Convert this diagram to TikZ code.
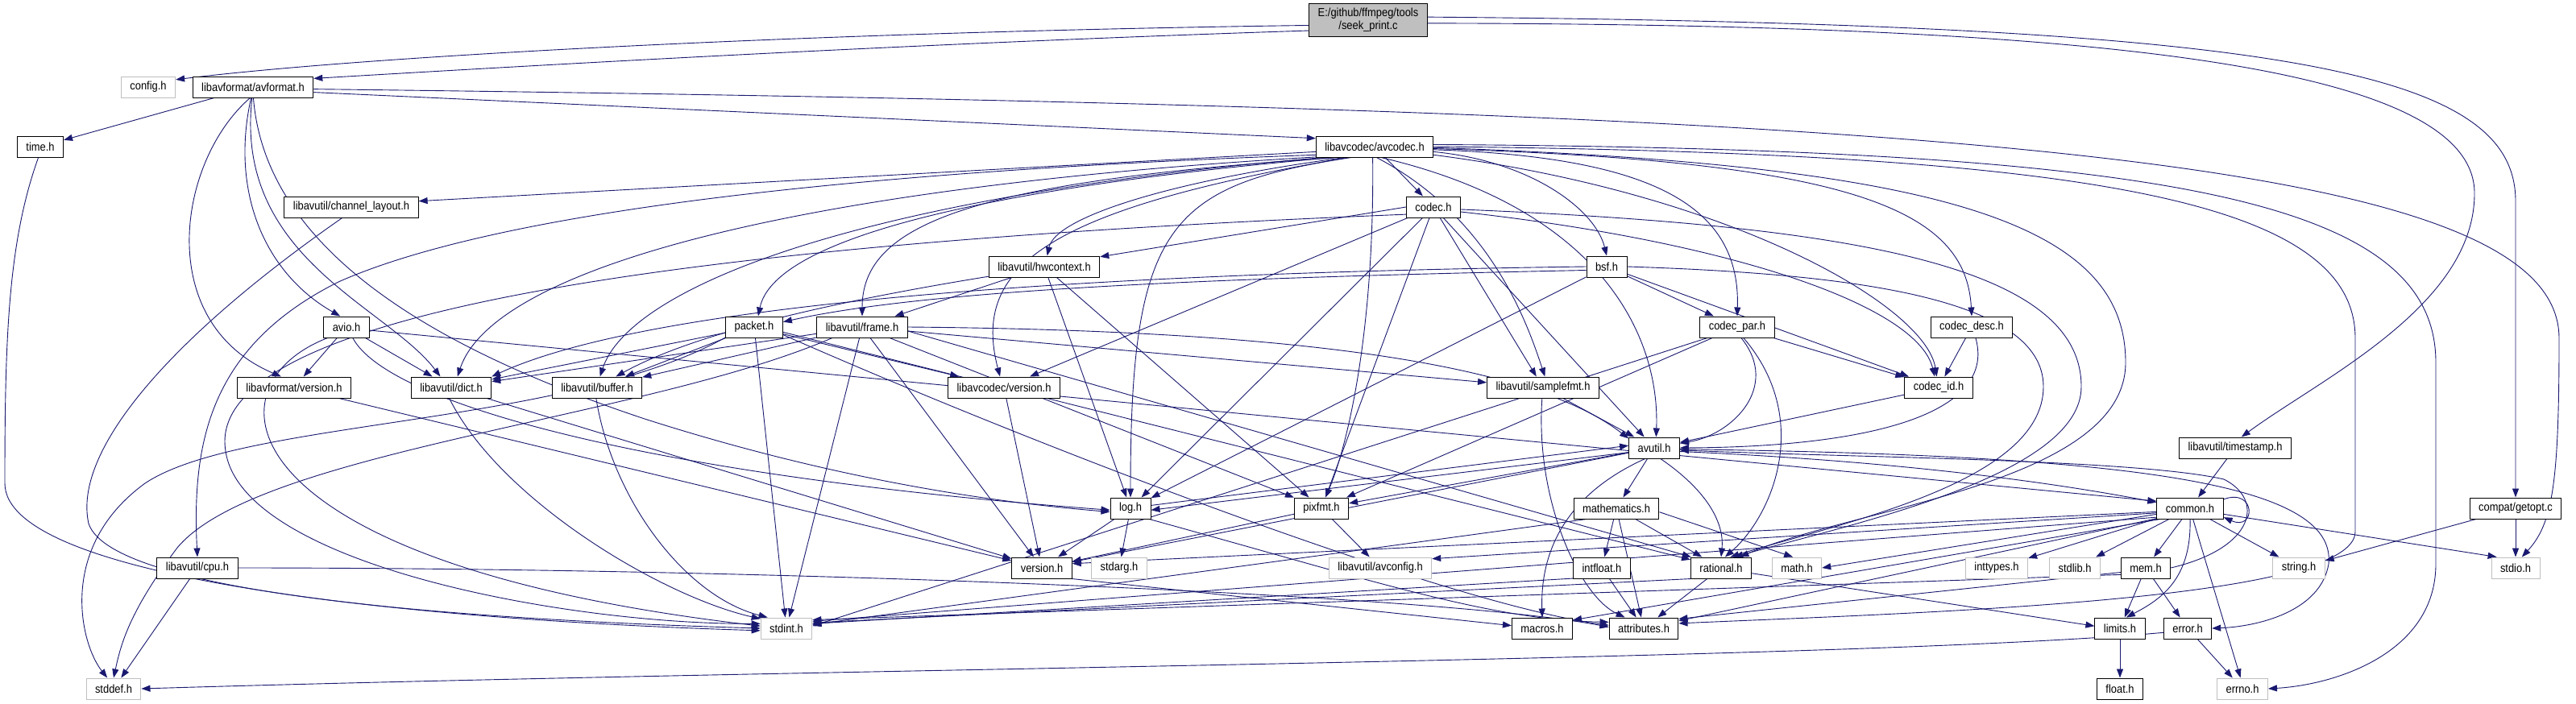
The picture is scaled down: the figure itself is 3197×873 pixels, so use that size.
\documentclass[tikz,border=0pt]{standalone}
\usepackage{fontspec}
\newfontfamily\dxfont{Liberation Sans}[FakeStretch=0.89]
\usepackage{tikz}
\usetikzlibrary{arrows.meta,backgrounds}
\definecolor{edgeblue}{RGB}{25,25,112}
\definecolor{boxgray}{RGB}{191,191,191}

\begin{document}
\begin{tikzpicture}[x=1pt, y=-1pt,
  hd/.style={draw=black, line width=1pt, fill=white, font=\dxfont\fontsize{14.5}{16}\selectfont,
             inner xsep=11pt, inner ysep=0pt, minimum height=26pt},
  sy/.style={hd, draw=boxgray},
  rt/.style={hd, fill=boxgray, align=center, minimum height=41pt},
  ar/.style={-{Triangle[length=11pt,width=8pt]}, draw=edgeblue, line width=0.9pt}]
\useasboundingbox (0,0) rectangle (3197,873);
\node[rt] (seek) at (1698,25) {E:/github/ffmpeg/tools\\/seek\_print.c};
\node[sy] (config) at (184,108) {config.h};
\node[hd] (avformat) at (314,108) {libavformat/avformat.h};
\node[hd] (time) at (50,182) {time.h};
\node[hd] (avcodec) at (1706,182) {libavcodec/avcodec.h};
\node[hd] (chlayout) at (436,257) {libavutil/channel\_layout.h};
\node[hd] (codec) at (1779,257) {codec.h};
\node[hd] (hwctx) at (1296,331) {libavutil/hwcontext.h};
\node[hd] (bsf) at (1994,331) {bsf.h};
\node[hd] (avio) at (430,406) {avio.h};
\node[hd] (packet) at (936,406) {packet.h};
\node[hd] (frame) at (1070,406) {libavutil/frame.h};
\node[hd] (codecpar) at (2156,406) {codec\_par.h};
\node[hd] (codecdesc) at (2447,406) {codec\_desc.h};
\node[hd] (lavfver) at (365,481) {libavformat/version.h};
\node[hd] (dict) at (560,481) {libavutil/dict.h};
\node[hd] (buffer) at (741,481) {libavutil/buffer.h};
\node[hd] (lavcver) at (1246,481) {libavcodec/version.h};
\node[hd] (samplefmt) at (1915,481) {libavutil/samplefmt.h};
\node[hd] (codecid) at (2406,481) {codec\_id.h};
\node[hd] (avutil) at (2053,556) {avutil.h};
\node[hd] (timestamp) at (2774,556) {libavutil/timestamp.h};
\node[hd] (log) at (1403,631) {log.h};
\node[hd] (pixfmt) at (1640,631) {pixfmt.h};
\node[hd] (mathematics) at (2006,631) {mathematics.h};
\node[hd] (common) at (2718,631) {common.h};
\node[hd] (getopt) at (3122,631) {compat/getopt.c};
\node[hd] (cpu) at (245,705) {libavutil/cpu.h};
\node[hd] (version) at (1293,705) {version.h};
\node[sy] (stdarg) at (1389,705) {stdarg.h};
\node[sy] (avconfig) at (1713,705) {libavutil/avconfig.h};
\node[hd] (intfloat) at (1988,705) {intfloat.h};
\node[hd] (rational) at (2136,705) {rational.h};
\node[sy] (math) at (2230,705) {math.h};
\node[sy] (inttypes) at (2478,705) {inttypes.h};
\node[sy] (stdlib) at (2575,705) {stdlib.h};
\node[hd] (mem) at (2663,705) {mem.h};
\node[sy] (string) at (2853,705) {string.h};
\node[sy] (stdio) at (3122,705) {stdio.h};
\node[sy] (stdint) at (976,780) {stdint.h};
\node[hd] (macros) at (1914,780) {macros.h};
\node[hd] (attributes) at (2040,780) {attributes.h};
\node[hd] (limits) at (2631,780) {limits.h};
\node[hd] (error) at (2715,780) {error.h};
\node[sy] (stddef) at (141,855) {stddef.h};
\node[hd] (float) at (2631,855) {float.h};
\node[sy] (errno) at (2783,855) {errno.h};
\begin{scope}[on background layer]
\fill[white] (0,0) rectangle (3197,873);
\draw[ar] (seek.185) .. controls (1000,40) and (450,70) .. (config.15);
\draw[ar] (seek.190) .. controls (1100,55) and (600,85) .. (avformat.8);
\draw[ar] (seek.-3) .. controls (2600,30) and (3071,80) .. (3071,240) .. controls (3071,380) and (2880,470) .. (timestamp.60);
\draw[ar] (seek.3) .. controls (2850,30) and (3122,90) .. (3122,250) -- (getopt.north);
\draw[ar] (avformat) -- (time);
\draw[ar] (avformat.-5) -- (avcodec.172);
\draw[ar] (avformat.-2) .. controls (2400,135) and (3176,190) .. (3176,420) .. controls (3176,600) and (3168,650) .. (stdio.60);
\draw[ar] (avformat.-100) .. controls (285,240) and (330,340) .. (avio.120);
\draw[ar] (avformat.-105) .. controls (220,200) and (190,400) .. (lavfver.140);
\draw[ar] (avformat.-95) .. controls (290,320) and (480,380) .. (dict.135);
\draw[ar] (avformat.-88) .. controls (330,320) and (560,440) .. (800,520) .. controls (1050,600) and (1250,625) .. (log.190);
\draw[ar] (time.-100) .. controls (10,300) and (6,420) .. (6,600) .. controls (6,720) and (520,770) .. (stdint.185);
\draw[ar] (chlayout.-130) .. controls (210,420) and (90,560) .. (110,650) .. controls (140,740) and (600,770) .. (stdint.180);
\draw[ar] (avio.-150) .. controls (250,480) and (280,700) .. (stdint.175);
\draw[ar] (avio) -- (lavfver);
\draw[ar] (avio) -- (dict);
\draw[ar] (avio.-60) .. controls (480,500) and (800,590) .. (log.185);
\draw[ar] (avio.-8) -- (common.168);
\draw[ar] (avcodec.185) -- (chlayout.5);
\draw[ar] (avcodec.188) .. controls (1000,215) and (600,270) .. (420,350) .. controls (260,430) and (238,550) .. (cpu.north);
\draw[ar] (avcodec.190) .. controls (950,235) and (610,340) .. (dict.60);
\draw[ar] (avcodec.192) .. controls (1050,245) and (780,360) .. (buffer.75);
\draw[ar] (avcodec.195) .. controls (1200,235) and (960,300) .. (packet.70);
\draw[ar] (avcodec.197) .. controls (1200,225) and (1070,280) .. (frame.north);
\draw[ar] (avcodec.200) .. controls (1450,225) and (1310,270) .. (hwctx.75);
\draw[ar] (avcodec.202) .. controls (1300,260) and (1205,330) .. (lavcver.110);
\draw[ar] (avcodec.205) .. controls (1450,230) and (1403,280) .. (log.north);
\draw[ar] (avcodec.-100) .. controls (1706,420) and (1670,560) .. (pixfmt.70);
\draw[ar] (avcodec) -- (codec);
\draw[ar] (avcodec.-80) .. controls (1850,270) and (1895,400) .. (samplefmt.80);
\draw[ar] (avcodec.-60) .. controls (1990,260) and (2060,420) .. (avutil.80);
\draw[ar] (avcodec.-5) .. controls (1900,200) and (1980,260) .. (bsf.north);
\draw[ar] (avcodec.-3) .. controls (2060,195) and (2160,260) .. (codecpar.north);
\draw[ar] (avcodec.-2) .. controls (2300,200) and (2440,260) .. (codecdesc.north);
\draw[ar] (avcodec.-8) .. controls (2150,240) and (2390,380) .. (codecid.100);
\draw[ar] (avcodec.-1) .. controls (2420,205) and (2638,280) .. (2638,450) .. controls (2638,600) and (2300,630) .. (rational.30);
\draw[ar] (avcodec.0) .. controls (2600,190) and (2923,250) .. (2923,420) -- (2923,660) .. controls (2923,745) and (2400,760) .. (attributes.8);
\draw[ar] (avcodec.2) .. controls (2700,185) and (3023,250) .. (3023,450) -- (3023,700) .. controls (3023,810) and (2900,850) .. (errno.east);
\draw[ar] (codec.west) -- (hwctx.10);
\draw[ar] (codec.195) .. controls (900,300) and (250,380) .. (280,560) .. controls (300,700) and (700,775) .. (stdint.170);
\draw[ar] (codec) -- (lavcver);
\draw[ar] (codec) -- (log);
\draw[ar] (codec) -- (pixfmt);
\draw[ar] (codec) -- (samplefmt);
\draw[ar] (codec) -- (avutil);
\draw[ar] (codec.-10) .. controls (2150,300) and (2380,380) .. (codecid.110);
\draw[ar] (codec.-5) .. controls (2300,280) and (2583,330) .. (2583,480) .. controls (2583,590) and (2300,650) .. (rational.40);
\draw[ar] (hwctx.190) .. controls (1000,380) and (850,420) .. (buffer.30);
\draw[ar] (hwctx) -- (frame);
\draw[ar] (hwctx) -- (log);
\draw[ar] (hwctx) -- (pixfmt);
\draw[ar] (bsf.west) .. controls (1300,340) and (800,380) .. (dict.15);
\draw[ar] (bsf.190) .. controls (1500,345) and (1150,360) .. (packet.10);
\draw[ar] (bsf) -- (log);
\draw[ar] (bsf) -- (codecpar);
\draw[ar] (bsf) -- (codecid);
\draw[ar] (bsf.east) .. controls (2300,340) and (2536,370) .. (2536,480) .. controls (2536,600) and (2280,650) .. (rational.50);
\draw[ar] (packet.200) .. controls (700,530) and (300,520) .. (180,600) .. controls (70,680) and (100,800) .. (stddef.120);
\draw[ar] (packet) -- (stdint);
\draw[ar] (packet) -- (buffer);
\draw[ar] (packet) -- (dict);
\draw[ar] (packet.-15) .. controls (1300,560) and (1800,750) .. (attributes.175);
\draw[ar] (packet.-10) -- (rational.165);
\draw[ar] (packet) -- (lavcver);
\draw[ar] (frame.200) .. controls (800,520) and (320,560) .. (220,680) .. controls (160,760) and (150,800) .. (stddef.north);
\draw[ar] (frame) -- (stdint);
\draw[ar] (frame.east) .. controls (1600,410) and (1900,450) .. (avutil.160);
\draw[ar] (frame) -- (buffer);
\draw[ar] (frame) -- (dict);
\draw[ar] (frame.-5) -- (rational.160);
\draw[ar] (frame) -- (samplefmt);
\draw[ar] (frame) -- (pixfmt);
\draw[ar] (frame) -- (version);
\draw[ar] (codecpar.200) -- (stdint.5);
\draw[ar] (codecpar.-70) .. controls (2210,480) and (2150,540) .. (avutil.10);
\draw[ar] (codecpar.-60) .. controls (2250,520) and (2200,640) .. (rational.70);
\draw[ar] (codecpar) -- (pixfmt);
\draw[ar] (codecpar) -- (codecid);
\draw[ar] (codecdesc) -- (codecid);
\draw[ar] (codecdesc.-70) .. controls (2480,520) and (2300,555) .. (avutil.east);
\draw[ar] (codecid) -- (avutil);
\draw[ar] (lavfver) -- (version);
\draw[ar] (lavcver) -- (version);
\draw[ar] (dict) -- (version);
\draw[ar] (dict.-100) .. controls (620,620) and (820,740) .. (stdint.160);
\draw[ar] (buffer.-95) .. controls (760,620) and (850,740) .. (stdint.150);
\draw[ar] (samplefmt) -- (avutil);
\draw[ar] (samplefmt.-95) .. controls (1905,620) and (1960,740) .. (attributes.150);
\draw[ar] (avutil.190) -- (log.-5);
\draw[ar] (log.8) -- (avutil.175);
\draw[ar] (avutil) -- (pixfmt);
\draw[ar] (avutil) -- (version);
\draw[ar] (avutil) -- (mathematics);
\draw[ar] (avutil.-130) .. controls (1930,620) and (1912,700) .. (macros.north);
\draw[ar] (avutil.-60) .. controls (2120,610) and (2140,650) .. (rational.north);
\draw[ar] (avutil.-8) .. controls (2300,570) and (2500,590) .. (common.170);
\draw[ar] (avutil.-3) .. controls (2650,565) and (2900,600) .. (2890,700) .. controls (2880,760) and (2800,778) .. (error.east);
\draw[ar] (log) -- (version);
\draw[ar] (log) -- (stdarg);
\draw[ar] (log.-30) .. controls (1700,720) and (1850,770) .. (attributes.170);
\draw[ar] (pixfmt) -- (avconfig);
\draw[ar] (pixfmt) -- (version);
\draw[ar] (mathematics) -- (intfloat);
\draw[ar] (mathematics) -- (attributes);
\draw[ar] (mathematics) -- (rational);
\draw[ar] (mathematics.-5) -- (math.110);
\draw[ar] (mathematics.200) -- (stdint.8);
\draw[ar] (intfloat.200) -- (stdint.10);
\draw[ar] (intfloat) -- (attributes);
\draw[ar] (rational.-10) -- (limits.175);
\draw[ar] (rational) -- (attributes);
\draw[ar] (rational.200) -- (stdint.12);
\draw[ar] (version.-20) -- (macros.175);
\draw[ar] (common) -- (inttypes);
\draw[ar] (common) -- (stdlib);
\draw[ar] (common) -- (mem);
\draw[ar] (common) -- (string);
\draw[ar] (common.-10) -- (stdio.150);
\draw[ar] (common.-75) -- (errno.100);
\draw[ar] (common.-90) .. controls (2720,720) and (2680,745) .. (limits.60);
\draw[ar] (common.190) -- (math.east);
\draw[ar] (common.195) -- (stdint.15);
\draw[ar] (common.197) -- (attributes.12);
\draw[ar] (common.200) -- (macros.15);
\draw[ar] (common.186) -- (version.8);
\draw[ar] (common.188) -- (avconfig.10);
\draw[ar] (common.15) .. controls (2800,605) and (2800,660) .. (common.-15);
\draw[ar] (mem) -- (limits);
\draw[ar] (mem) -- (error);
\draw[ar] (mem.195) -- (stdint.18);
\draw[ar] (mem.190) -- (attributes.15);
\draw[ar] (mem.east) .. controls (2800,680) and (2810,620) .. (2760,595) .. controls (2650,570) and (2300,568) .. (avutil.-5);
\draw[ar] (limits) -- (float);
\draw[ar] (error) -- (errno);
\draw[ar] (error.190) .. controls (2300,820) and (1000,830) .. (stddef.east);
\draw[ar] (cpu) -- (stddef);
\draw[ar] (cpu.east) .. controls (1000,705) and (1800,740) .. (attributes.178);
\draw[ar] (timestamp) -- (common);
\draw[ar] (getopt) -- (stdio);
\draw[ar] (getopt) -- (string);
\end{scope}
\end{tikzpicture}
\end{document}
